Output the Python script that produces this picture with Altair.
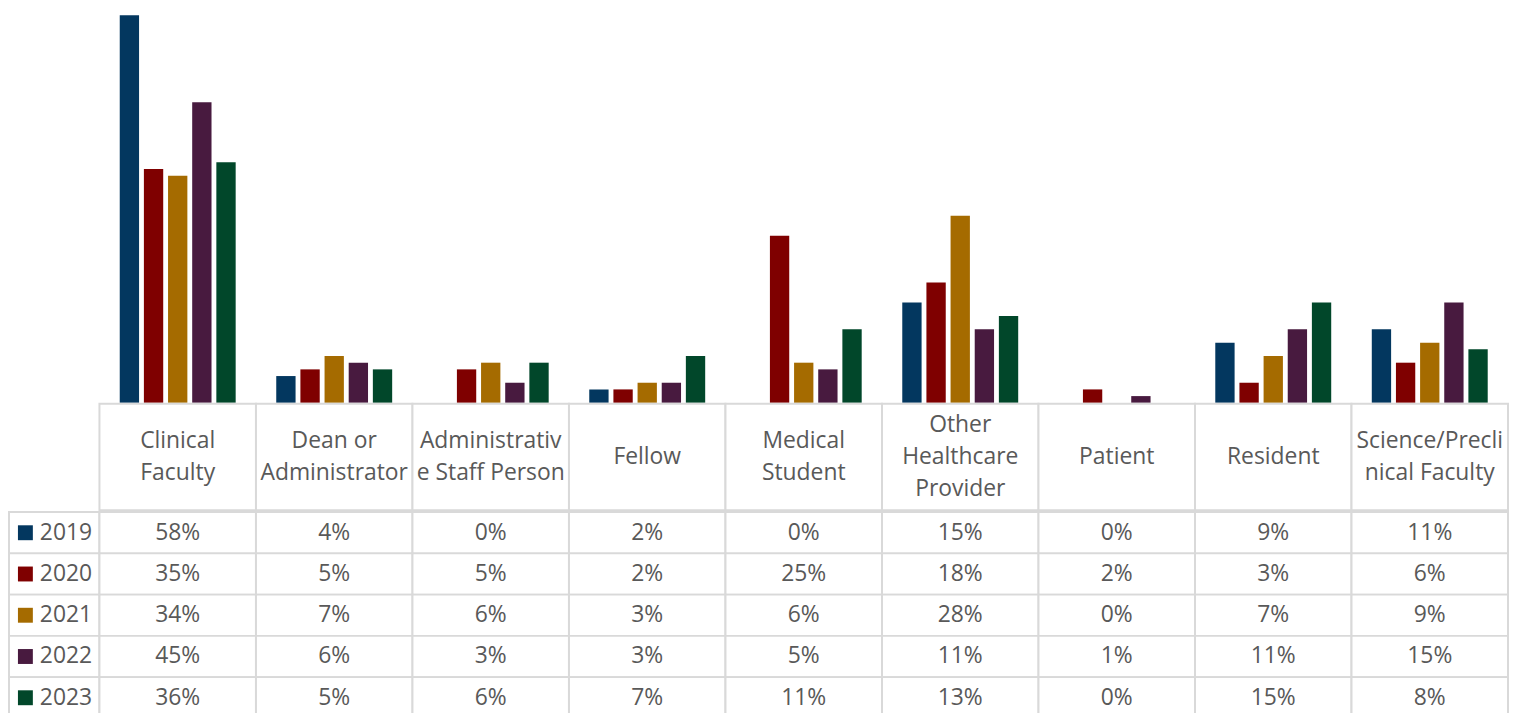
import altair as alt
import pandas as pd

categories = ["Clinical Faculty", "Dean or Administrator", "Administrative Staff Person",
              "Fellow", "Medical Student", "Other Healthcare Provider", "Patient",
              "Resident", "Science/Preclinical Faculty"]
header_labels = ["Clinical\nFaculty", "Dean or\nAdministrator", "Administrativ\ne Staff Person",
                 "Fellow", "Medical\nStudent", "Other\nHealthcare\nProvider", "Patient",
                 "Resident", "Science/Precli\nnical Faculty"]
years = ["2019", "2020", "2021", "2022", "2023"]
colors = ["#03375F", "#7F0000", "#A56B00", "#481A3F", "#01472A"]

v2019 = [58, 4, 0, 2, 0, 15, 0, 9, 11]
v2020 = [35, 5, 5, 2, 25, 18, 2, 3, 6]
v2021 = [34, 7, 6, 3, 6, 28, 0, 7, 9]
v2022 = [45, 6, 3, 3, 5, 11, 1, 11, 15]
v2023 = [36, 5, 6, 7, 11, 13, 0, 15, 8]
series = {"2019": v2019, "2020": v2020, "2021": v2021, "2022": v2022, "2023": v2023}

FONT = "Open Sans"
FS = 23
TXT = "#595959"
GRID = "#D9D9D9"
W_LEFT = 92
W_MAIN = 1417
H_BARS = 395
H_HEAD = 107
H_ROWS = 207.5
LINE_H = 32

rows = []
for y in years:
    for c, v in zip(categories, series[y]):
        rows.append({"category": c, "year": y, "value": v, "label": f"{v}%"})
df = pd.DataFrame(rows)

head_rows = []
for c, lab in zip(categories, header_labels):
    parts = lab.split("\n")
    for i, p in enumerate(parts):
        head_rows.append({"category": c, "line": p, "i": i, "n": len(parts)})
head_df = pd.DataFrame(head_rows)

xcat = alt.X("category:N", sort=categories,
             scale=alt.Scale(domain=categories, paddingInner=0, paddingOuter=0), axis=None)
yyear = alt.Y("year:N", sort=years,
              scale=alt.Scale(domain=years, paddingInner=0, paddingOuter=0), axis=None)
col = alt.Color("year:N", scale=alt.Scale(domain=years, range=colors), legend=None)

# bars
bars = alt.Chart(df).mark_bar().encode(
    x=xcat,
    xOffset=alt.XOffset("year:N", sort=years,
                        scale=alt.Scale(domain=years, paddingInner=0.2, paddingOuter=0.84)),
    y=alt.Y("value:Q", scale=alt.Scale(domain=[0, 58.78], nice=False, zero=True), axis=None),
    color=col,
).properties(width=W_MAIN, height=H_BARS)

blank = pd.DataFrame({"s": [0]})
spacer_top = alt.Chart(blank).mark_rect(opacity=0).encode(
    x=alt.value(0), x2=alt.value(W_LEFT), y=alt.value(0), y2=alt.value(H_BARS)
).properties(width=W_LEFT, height=H_BARS)
spacer_mid = alt.Chart(blank).mark_rect(opacity=0).encode(
    x=alt.value(0), x2=alt.value(W_LEFT), y=alt.value(0), y2=alt.value(H_HEAD)
).properties(width=W_LEFT, height=H_HEAD)

# header row
cells = pd.DataFrame({"category": categories})
head = alt.layer(
    alt.Chart(cells).mark_rect(fill="white", stroke=GRID, strokeWidth=2).encode(x=xcat),
    alt.Chart(head_df).transform_calculate(
        ypos=f"{H_HEAD / 2} + (datum.i - (datum.n - 1) / 2) * {LINE_H}"
    ).mark_text(font=FONT, fontSize=FS, color=TXT, baseline="middle").encode(
        x=xcat,
        y=alt.Y("ypos:Q", scale=alt.Scale(domain=[0, H_HEAD], range=[0, H_HEAD]), axis=None),
        text="line:N"),
).properties(width=W_MAIN, height=H_HEAD)

# data rows
rows_base = alt.Chart(df).encode(x=xcat, y=yyear)
table = alt.layer(
    rows_base.mark_rect(fill="white", stroke=GRID, strokeWidth=2),
    rows_base.mark_text(font=FONT, fontSize=FS, color=TXT, baseline="middle").encode(text="label:N"),
).properties(width=W_MAIN, height=H_ROWS)

# legend column
leg_df = pd.DataFrame({"year": years})
leg_base = alt.Chart(leg_df).encode(y=yyear)
legend = alt.layer(
    leg_base.mark_rect(fill="white", stroke=GRID, strokeWidth=2).encode(
        x=alt.value(1), x2=alt.value(W_LEFT)),
    leg_base.mark_square(size=225, opacity=1).encode(x=alt.value(17.5), color=col),
    leg_base.mark_text(font=FONT, fontSize=FS, color=TXT, align="left", baseline="middle").encode(
        x=alt.value(32), text="year:N"),
).properties(width=W_LEFT, height=H_ROWS)

top = alt.hconcat(spacer_top, bars, spacing=0, bounds="flush")
mid = alt.hconcat(spacer_mid, head, spacing=0, bounds="flush")
bot = alt.hconcat(legend, table, spacing=0, bounds="flush")

chart = alt.vconcat(top, mid, bot, spacing=0).properties(
    padding=0
).configure_view(stroke=None)

chart.save("out.html", embed_options={"renderer": "svg", "actions": False})
